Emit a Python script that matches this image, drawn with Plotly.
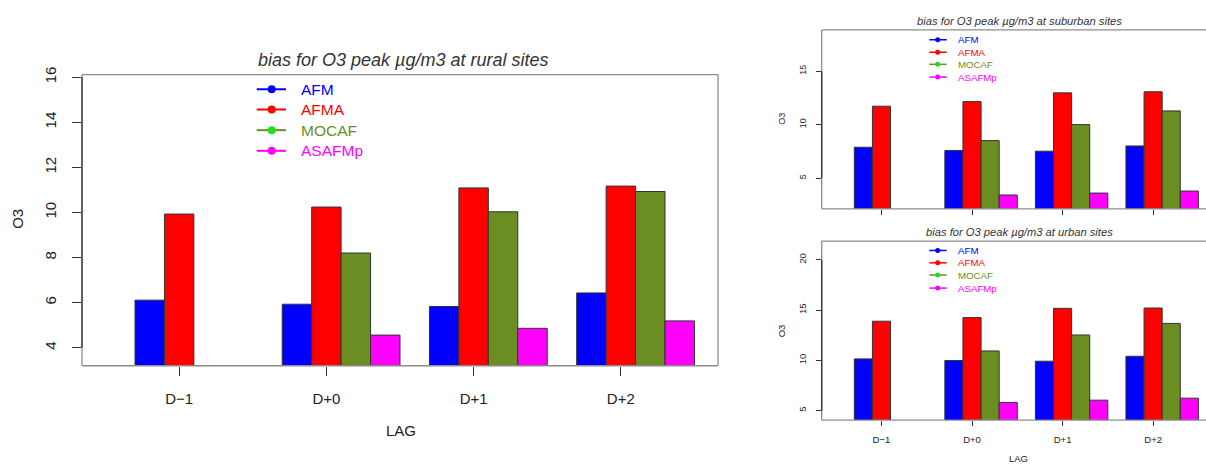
import plotly.graph_objects as go

W, H = 1206, 465

lags = ["D\u22121", "D+0", "D+1", "D+2"]
series = ["AFM", "AFMA", "MOCAF", "ASAFMp"]
bar_colors = ["#0000FF", "#FF0000", "#6B8E23", "#FF00FF"]
dot_colors = ["#0000FF", "#FF0000", "#22DD22", "#FF00FF"]

rural_afm = [6.11, 5.93, 5.83, 6.43]
rural_afma = [9.93, 10.24, 11.09, 11.17]
rural_mocaf = [None, 8.20, 10.03, 10.93]
rural_asafmp = [None, 4.56, 4.86, 5.19]

suburban_afm = [7.88, 7.58, 7.51, 8.00]
suburban_afma = [11.72, 12.15, 12.97, 13.07]
suburban_mocaf = [None, 8.50, 10.00, 11.28]
suburban_asafmp = [None, 3.41, 3.59, 3.78]

urban_afm = [10.15, 9.99, 9.92, 10.41]
urban_afma = [13.90, 14.26, 15.18, 15.21]
urban_mocaf = [None, 10.94, 12.53, 13.68]
urban_asafmp = [None, 5.82, 6.04, 6.24]

rural_yticks = [4, 6, 8, 10, 12, 14, 16]
suburban_yticks = [5, 10, 15]
urban_yticks = [5, 10, 15, 20]

titles = ["bias for O3 peak \u00b5g/m3 at rural sites",
          "bias for O3 peak \u00b5g/m3 at suburban sites",
          "bias for O3 peak \u00b5g/m3 at urban sites"]

FONT = "Liberation Sans, Arial, Helvetica, sans-serif"
BOX = "#8c8c8c"
AX = "#333333"
TXT = "#222222"


def px(x):
    return x / W


def py(y):
    return 1 - y / H


panels = [
    dict(data=[rural_afm, rural_afma, rural_mocaf, rural_asafmp], yticks=rural_yticks,
         xd=(82, 718), yd=(67.7, 364), yr=[3.2, 16.12], xr=[-0.8, 20.8],
         fs=15, tfs=18, lfs=15.5, ticklen=9, xlabels=True, rightbox=True,
         title_xy=(403, 52.5), o3_xy=(17.5, 215), lag_xy=(401, 430),
         leg=dict(x0=256.7, x1=286, dot=271.7, tx=299.3, ys=[82.7, 103.3, 124.3, 145.3], lw=2, d=8),
         xstand=10, ystand=10),
    dict(data=[suburban_afm, suburban_afma, suburban_mocaf, suburban_asafmp], yticks=suburban_yticks,
         xd=(821.7, 1206), yd=(22.3, 204.3), yr=[2.12, 18.86], xr=[-0.8, 20.42],
         fs=9, tfs=11.2, lfs=9.7, ticklen=5, xlabels=False, rightbox=False,
         title_xy=(1019, 13.3), o3_xy=(781.7, 113), lag_xy=None,
         leg=dict(x0=929.3, x1=946.7, dot=937.7, tx=955.7, ys=[32.3, 45, 57.3, 70.3], lw=1.5, d=5),
         xstand=5, ystand=6),
    dict(data=[urban_afm, urban_afma, urban_mocaf, urban_asafmp], yticks=urban_yticks,
         xd=(821.7, 1206), yd=(237.3, 419.3), yr=[4.06, 21.86], xr=[-0.8, 20.42],
         fs=9.5, tfs=11.2, lfs=9.7, ticklen=5, xlabels=True, rightbox=False,
         title_xy=(1019, 228.3), o3_xy=(781.7, 328.3), lag_xy=(1018, 458),
         leg=dict(x0=929.3, x1=946.7, dot=937.7, tx=955.7, ys=[246.7, 259.3, 271.7, 285], lw=1.5, d=5),
         xstand=6, ystand=6),
]

fig = go.Figure()
shapes = []
annotations = []
layout = {}

for k, p in enumerate(panels):
    sfx = "" if k == 0 else str(k + 1)
    xa, ya = "x" + sfx, "y" + sfx
    for j, (name, vals) in enumerate(zip(series, p["data"])):
        xs = [5 * i + j + 1.5 for i in range(len(lags))]
        fig.add_trace(go.Bar(
            x=xs, y=vals, width=1, name=name, showlegend=False,
            marker=dict(color=bar_colors[j], line=dict(color="#333333", width=1)),
            xaxis=xa, yaxis=ya, hoverinfo="skip"))
    tickx = [5 * i + 2.5 for i in range(len(lags))]
    layout["xaxis" + sfx] = dict(
        domain=[px(p["xd"][0]), px(p["xd"][1])], range=p["xr"], anchor=ya,
        tickvals=tickx, ticktext=lags, showticklabels=p["xlabels"],
        ticks="outside", ticklen=p["ticklen"], tickcolor=AX, tickwidth=1,
        showgrid=False, zeroline=False, showline=False,
        tickfont=dict(family=FONT, size=p["fs"], color=TXT),
        ticklabelstandoff=p["xstand"], fixedrange=True)
    layout["yaxis" + sfx] = dict(
        domain=[py(p["yd"][1]), py(p["yd"][0])], range=p["yr"], anchor=xa,
        tickvals=p["yticks"], ticks="outside", ticklen=p["ticklen"], tickcolor=AX,
        tickwidth=1, tickangle=-90, showgrid=False, zeroline=False, showline=False,
        tickfont=dict(family=FONT, size=p["fs"], color=TXT),
        ticklabelstandoff=p["ystand"], fixedrange=True)
    # frame: top, bottom, left (and right for the rural panel)
    sides = [(0, 1, 1, 1), (0, 1, 0, 0), (0, 0, 0, 1)]
    if p["rightbox"]:
        sides.append((1, 1, 0, 1))
    for (a0, a1, b0, b1) in sides:
        shapes.append(dict(type="line", xref=xa + " domain", yref=ya + " domain",
                           x0=a0, x1=a1, y0=b0, y1=b1,
                           line=dict(color=BOX, width=1.3), layer="above"))
    shapes.append(dict(type="line", xref=xa + " domain", yref=ya, x0=0, x1=0,
                       y0=min(p["yticks"]), y1=max(p["yticks"]),
                       line=dict(color=AX, width=1.3), layer="above"))
    tx, ty = p["title_xy"]
    annotations.append(dict(text="<i>" + titles[k] + "</i>", x=px(tx), y=py(ty),
                            xref="paper", yref="paper", showarrow=False,
                            xanchor="center", yanchor="middle",
                            font=dict(family=FONT, size=p["tfs"], color="#333333")))
    ox, oy = p["o3_xy"]
    annotations.append(dict(text="O3", x=px(ox), y=py(oy), xref="paper", yref="paper",
                            showarrow=False, textangle=-90, xanchor="center", yanchor="middle",
                            font=dict(family=FONT, size=p["fs"], color=TXT)))
    if p["lag_xy"]:
        lx, ly = p["lag_xy"]
        annotations.append(dict(text="LAG", x=px(lx), y=py(ly), xref="paper", yref="paper",
                                showarrow=False, xanchor="center", yanchor="middle",
                                font=dict(family=FONT, size=p["fs"], color=TXT)))
    lg = p["leg"]
    for j, name in enumerate(series):
        yy = py(lg["ys"][j])
        shapes.append(dict(type="line", xref="paper", yref="paper",
                           x0=px(lg["x0"]), x1=px(lg["x1"]), y0=yy, y1=yy,
                           line=dict(color=bar_colors[j], width=lg["lw"])))
        r = lg["d"] / 2
        shapes.append(dict(type="circle", xref="paper", yref="paper",
                           xsizemode="pixel", ysizemode="pixel",
                           xanchor=px(lg["dot"]), yanchor=yy,
                           x0=-r, x1=r, y0=-r, y1=r,
                           fillcolor=dot_colors[j], line=dict(color=dot_colors[j], width=0)))
        annotations.append(dict(text=name, x=px(lg["tx"]), y=yy, xref="paper", yref="paper",
                                showarrow=False, xanchor="left", yanchor="middle",
                                font=dict(family=FONT, size=p["lfs"], color=bar_colors[j])))

fig.update_layout(
    width=W, height=H, margin=dict(l=0, r=0, t=0, b=0),
    paper_bgcolor="white", plot_bgcolor="white",
    barmode="overlay", showlegend=False,
    shapes=shapes, annotations=annotations, **layout)

fig.write_html("out.html", config={"displayModeBar": False},
               post_script="document.body.style.margin='0';document.body.style.overflow='hidden';")
